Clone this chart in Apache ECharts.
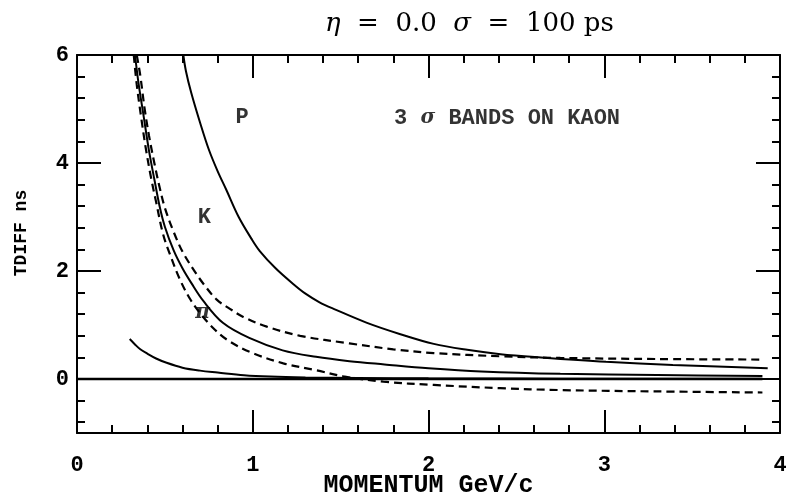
<!DOCTYPE html>
<html>
<head>
<meta charset="utf-8">
<script src="https://cdn.jsdelivr.net/npm/echarts@6/dist/echarts.min.js"></script>
<style>
  html, body { margin: 0; padding: 0; background: #fff; }
  #chart { width: 786px; height: 499px; }
</style>
</head>
<body>
<div id="chart"></div>
<script>
// ---- data ----
// Proton (solid)
var protonP = [0.605, 0.62, 0.65, 0.70, 0.75, 0.80, 0.85, 0.92, 0.994, 1.04, 1.13, 1.23, 1.30, 1.38, 1.46, 1.65, 1.84, 2.03, 2.22, 2.41, 2.64, 3.01, 3.39, 3.93];
var protonT = [6.0, 5.7, 5.3, 4.75, 4.25, 3.85, 3.50, 3.00, 2.59, 2.37, 2.05, 1.76, 1.58, 1.42, 1.30, 1.04, 0.83, 0.65, 0.54, 0.46, 0.40, 0.32, 0.26, 0.20];
// Kaon (solid)
var kaonP = [0.33, 0.35, 0.38, 0.41, 0.44, 0.47, 0.50, 0.55, 0.60, 0.65, 0.72, 0.83, 0.98, 1.17, 1.36, 1.55, 1.75, 2.0, 2.3, 2.75, 3.3, 3.9];
var kaonT = [6.0, 5.48, 4.85, 4.22, 3.70, 3.20, 2.82, 2.38, 2.05, 1.78, 1.44, 1.04, 0.76, 0.53, 0.41, 0.33, 0.27, 0.20, 0.14, 0.095, 0.072, 0.055];
// Kaon +3 sigma band (dashed)
var bandUpP = [0.34, 0.36, 0.385, 0.41, 0.44, 0.47, 0.50, 0.548, 0.60, 0.662, 0.72, 0.795, 0.87, 0.946, 1.08, 1.27, 1.55, 1.80, 2.03, 2.41, 2.75, 3.3, 3.9];
var bandUpT = [6.0, 5.62, 5.0, 4.5, 4.0, 3.55, 3.17, 2.74, 2.36, 2.03, 1.76, 1.47, 1.30, 1.15, 0.97, 0.80, 0.66, 0.55, 0.48, 0.42, 0.39, 0.37, 0.36];
// Kaon -3 sigma band (dashed)
var bandLoP = [0.323, 0.34, 0.365, 0.39, 0.42, 0.45, 0.49, 0.53, 0.586, 0.64, 0.70, 0.77, 0.852, 0.984, 1.174, 1.364, 1.515, 1.743, 2.03, 2.407, 2.748, 3.3, 3.9];
var bandLoT = [6.0, 5.45, 4.85, 4.30, 3.75, 3.28, 2.68, 2.30, 1.84, 1.50, 1.22, 0.96, 0.73, 0.50, 0.29, 0.16, 0.05, -0.05, -0.11, -0.17, -0.205, -0.23, -0.25];
// Low curve (solid)
var lowP = [0.30, 0.33, 0.36, 0.40, 0.45, 0.51, 0.60, 0.70, 0.80, 0.95, 1.10, 1.30, 1.60, 2.0, 2.5, 3.0, 3.9];
var lowT = [0.74, 0.64, 0.55, 0.47, 0.38, 0.30, 0.21, 0.155, 0.12, 0.07, 0.045, 0.03, 0.02, 0.012, 0.008, 0.005, 0.003];
// Zero reference line
var zeroP = [0.0, 3.9];
var zeroT = [0.0, 0.0];

// Annotations
var annoText = ['P', 'K', '{pi|π}', '3 {s|σ} BANDS ON KAON'];
var annoP = [0.939, 0.725, 0.714, 2.447];
var annoT = [4.84, 2.99, 1.22, 4.83];

// Axis ticks / labels
var xMajor = [0, 1, 2, 3, 4];
var xMinor = [0.2, 0.4, 0.6, 0.8, 1.2, 1.4, 1.6, 1.8, 2.2, 2.4, 2.6, 2.8, 3.2, 3.4, 3.6, 3.8];
var yMajor = [0, 2, 4, 6];
var yMinor = [-0.8, -0.4, 0.4, 0.8, 1.2, 1.6, 2.4, 2.8, 3.2, 3.6, 4.4, 4.8, 5.2, 5.6];

function zip(a, b) { return a.map(function (v, i) { return [v, b[i]]; }); }

var monoFont = '"Liberation Mono", "DejaVu Sans Mono", monospace';
var serifFont = '"DejaVu Serif", "Liberation Serif", serif';
var black = '#000';

function xAxisDef(pos, major, showLabels, len, withLine) {
  return {
    type: 'value', position: pos, min: 0, max: 4,
    axisLine: { show: withLine, onZero: false, lineStyle: { color: black, width: 2 } },
    axisTick: { show: true, inside: true, length: len, customValues: major, lineStyle: { color: black, width: 2 } },
    axisLabel: showLabels ? { show: true, customValues: xMajor, margin: 21, color: black,
      fontFamily: monoFont, fontWeight: 'bold', fontSize: 22 } : { show: false },
    splitLine: { show: false }
  };
}
function yAxisDef(pos, major, showLabels, len, withLine) {
  return {
    type: 'value', position: pos, min: -1, max: 6,
    axisLine: { show: withLine, onZero: false, lineStyle: { color: black, width: 2 } },
    axisTick: { show: true, inside: true, length: len, customValues: major, lineStyle: { color: black, width: 2 } },
    axisLabel: showLabels ? { show: true, customValues: yMajor, margin: 8, color: black,
      fontFamily: monoFont, fontWeight: 'bold', fontSize: 22 } : { show: false },
    splitLine: { show: false }
  };
}

var xAxes = [
  xAxisDef('bottom', xMajor, true, 23, true),
  xAxisDef('bottom', xMinor, false, 8, false),
  xAxisDef('top', xMajor, false, 23, true),
  xAxisDef('top', xMinor, false, 8, false)
];
xAxes[0].name = 'MOMENTUM GeV/c';
xAxes[0].nameLocation = 'middle';
xAxes[0].nameGap = 40;
xAxes[0].nameMoveOverlap = false;
xAxes[0].nameTextStyle = { color: black, fontFamily: monoFont, fontWeight: 'bold', fontSize: 25 };

var yAxes = [
  yAxisDef('left', yMajor, true, 24, true),
  yAxisDef('left', yMinor, false, 8, false),
  yAxisDef('right', yMajor, false, 24, true),
  yAxisDef('right', yMinor, false, 8, false)
];
yAxes[0].name = 'TDIFF ns';
yAxes[0].nameLocation = 'middle';
yAxes[0].nameGap = 47;
yAxes[0].nameMoveOverlap = false;
yAxes[0].nameTextStyle = { color: black, fontFamily: monoFont, fontWeight: 'bold', fontSize: 18, padding: [0, 0, 0, 22] };

function lineSeries(p, t, dashed, width) {
  return {
    type: 'line', xAxisIndex: 0, yAxisIndex: 0, data: zip(p, t),
    showSymbol: false, symbol: 'none', smooth: 0.35, clip: true,
    lineStyle: { color: black, width: width, type: dashed ? [8, 5] : 'solid' },
    emphasis: { disabled: true }, silent: true
  };
}

var annoData = annoText.map(function (txt, i) {
  return { value: [annoP[i], annoT[i]], name: txt };
});

var option = {
  animation: false,
  backgroundColor: '#fff',
  title: {
    text: '{i|η}  =  0.0  {i|σ}  =  100 ps',
    left: 320, top: 6,
    textStyle: {
      color: black, fontFamily: serifFont, fontSize: 26, fontWeight: 'normal',
      rich: { i: { fontStyle: 'italic', fontFamily: serifFont, fontSize: 26, color: black } }
    }
  },
  grid: { left: 77, right: 6, top: 55, bottom: 66, containLabel: false, outerBoundsMode: 'none' },
  xAxis: xAxes,
  yAxis: yAxes,
  series: [
    lineSeries(zeroP, zeroT, false, 2.5),
    lineSeries(protonP, protonT, false, 2),
    lineSeries(kaonP, kaonT, false, 2),
    lineSeries(bandUpP, bandUpT, true, 2.2),
    lineSeries(bandLoP, bandLoT, true, 2.2),
    lineSeries(lowP, lowT, false, 2),
    {
      type: 'scatter', xAxisIndex: 0, yAxisIndex: 0, data: annoData,
      symbolSize: 1, itemStyle: { color: 'rgba(0,0,0,0)' }, silent: true,
      label: {
        show: true, position: 'inside', formatter: '{b}', color: black,
        fontFamily: monoFont, fontWeight: 'bold', fontSize: 22,
        rich: {
          s: { fontFamily: serifFont, fontStyle: 'italic', fontWeight: 'bold', fontSize: 20, color: black },
          pi: { fontFamily: serifFont, fontStyle: 'italic', fontWeight: 'bold', fontSize: 20, color: black }
        }
      }
    }
  ]
};

var chart = echarts.init(document.getElementById('chart'), null, { renderer: 'canvas' });
chart.setOption(option);
</script>
</body>
</html>
